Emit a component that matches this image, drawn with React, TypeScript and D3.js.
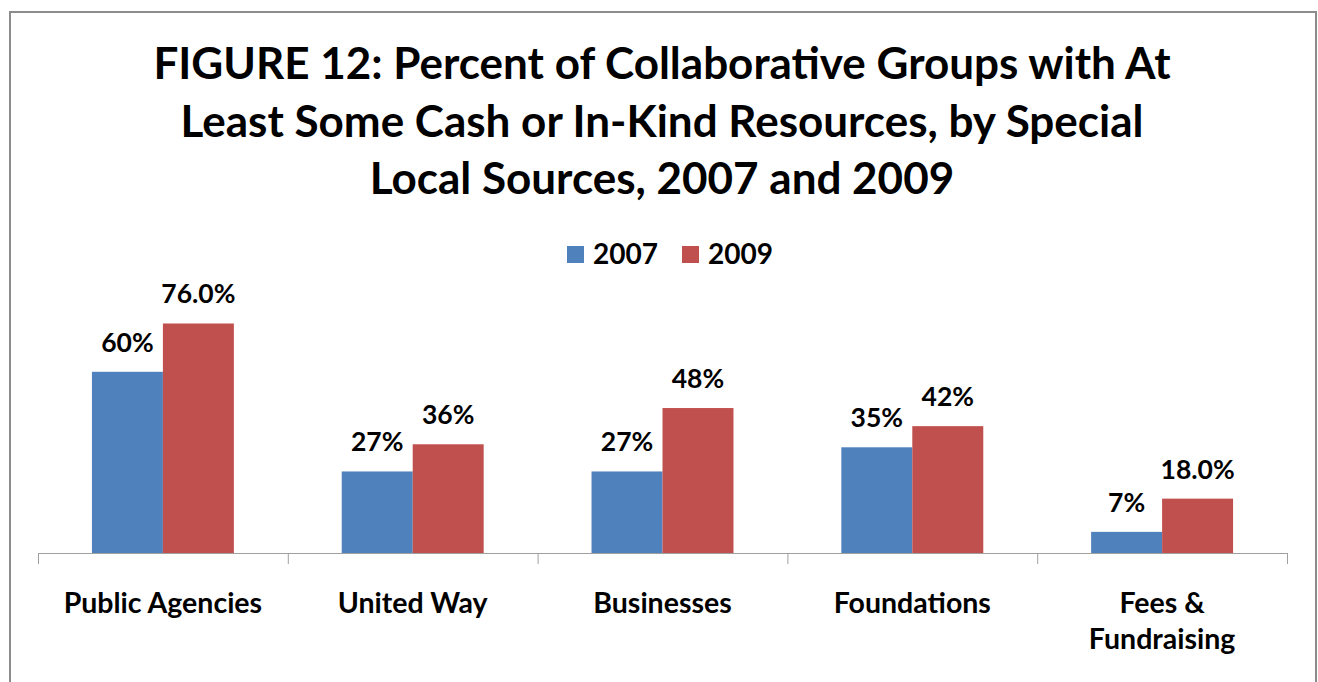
import React from "react";
import * as d3 from "d3";

const categories = ["Public Agencies", "United Way", "Businesses", "Foundations", "Fees & Fundraising"];
const categoryLines = [["Public Agencies"], ["United Way"], ["Businesses"], ["Foundations"], ["Fees &", "Fundraising"]];
const seriesNames = ["2007", "2009"];
const values2007 = [60, 27, 27, 35, 7];
const values2009 = [76, 36, 48, 42, 18];
const labels2007 = ["60%", "27%", "27%", "35%", "7%"];
const labels2009 = ["76.0%", "36%", "48%", "42%", "18.0%"];
const titleLines = [
  "FIGURE 12: Percent of Collaborative Groups with At",
  "Least Some Cash or In-Kind Resources, by Special",
  "Local Sources, 2007 and 2009",
];

const colors = ["#4F81BD", "#C0504D"];
const W = 1318;
const H = 682;
const FONT = "Lato, 'Open Sans', sans-serif";

export default function App() {
  const x0 = d3.scaleBand<string>().domain(categories).range([38, 1287]).paddingInner(0).paddingOuter(0);
  const x1 = d3.scaleBand<string>().domain(seriesNames).range([0, x0.bandwidth()]).paddingInner(0).paddingOuter(0.76);
  const y = d3.scaleLinear().domain([0, 100]).range([553, 251]);
  const series = [values2007, values2009];
  const labels = [labels2007, labels2009];
  const ticks = categories.map((c) => x0(c)!).concat([x0.range()[1]]);

  return (
    <svg width={W} height={H} style={{ position: "absolute", left: 0, top: 0 }} fontFamily={FONT}>
      <rect x={0} y={0} width={W} height={H} fill="#fff" />
      <rect x={10} y={12} width={1306} height={700} fill="#fff" stroke="#8c8c8c" strokeWidth={2} />
      {titleLines.map((t, i) => (
        <text key={i} x={662} y={79 + i * 57.5} textAnchor="middle" fontSize={44} fontWeight={700} fill="#000">
          {t}
        </text>
      ))}
      {/* legend */}
      {seriesNames.map((s, i) => (
        <g key={s} transform={`translate(${567 + i * 115},0)`}>
          <rect x={0} y={246} width={17} height={17} fill={colors[i]} />
          <text x={26} y={264} fontSize={28} fontWeight={700} fill="#000">
            {s}
          </text>
        </g>
      ))}
      {/* bars */}
      {categories.map((c, ci) => (
        <g key={c} transform={`translate(${x0(c)},0)`}>
          {seriesNames.map((s, si) => {
            const v = series[si][ci];
            const bx = x1(s)!;
            return (
              <g key={s}>
                <rect x={bx} y={y(v)} width={x1.bandwidth()} height={y(0) - y(v)} fill={colors[si]} />
                <text x={bx + x1.bandwidth() / 2} y={y(v) - 20} textAnchor="middle" fontSize={26.5} fontWeight={700} fill="#000">
                  {labels[si][ci]}
                </text>
              </g>
            );
          })}
        </g>
      ))}
      {/* axis */}
      <line x1={38} x2={1287} y1={553.5} y2={553.5} stroke="#a0a0a0" strokeWidth={1} />
      {ticks.map((t, i) => (
        <line key={i} x1={t + 0.5} x2={t + 0.5} y1={553} y2={564} stroke="#a0a0a0" strokeWidth={1} />
      ))}
      {categories.map((c, ci) => (
        <text key={c} x={x0(c)! + x0.bandwidth() / 2} textAnchor="middle" fontSize={28.5} fontWeight={700} fill="#000">
          {categoryLines[ci].map((l, li) => (
            <tspan key={li} x={x0(c)! + x0.bandwidth() / 2} y={613 + li * 36}>
              {l}
            </tspan>
          ))}
        </text>
      ))}
    </svg>
  );
}
